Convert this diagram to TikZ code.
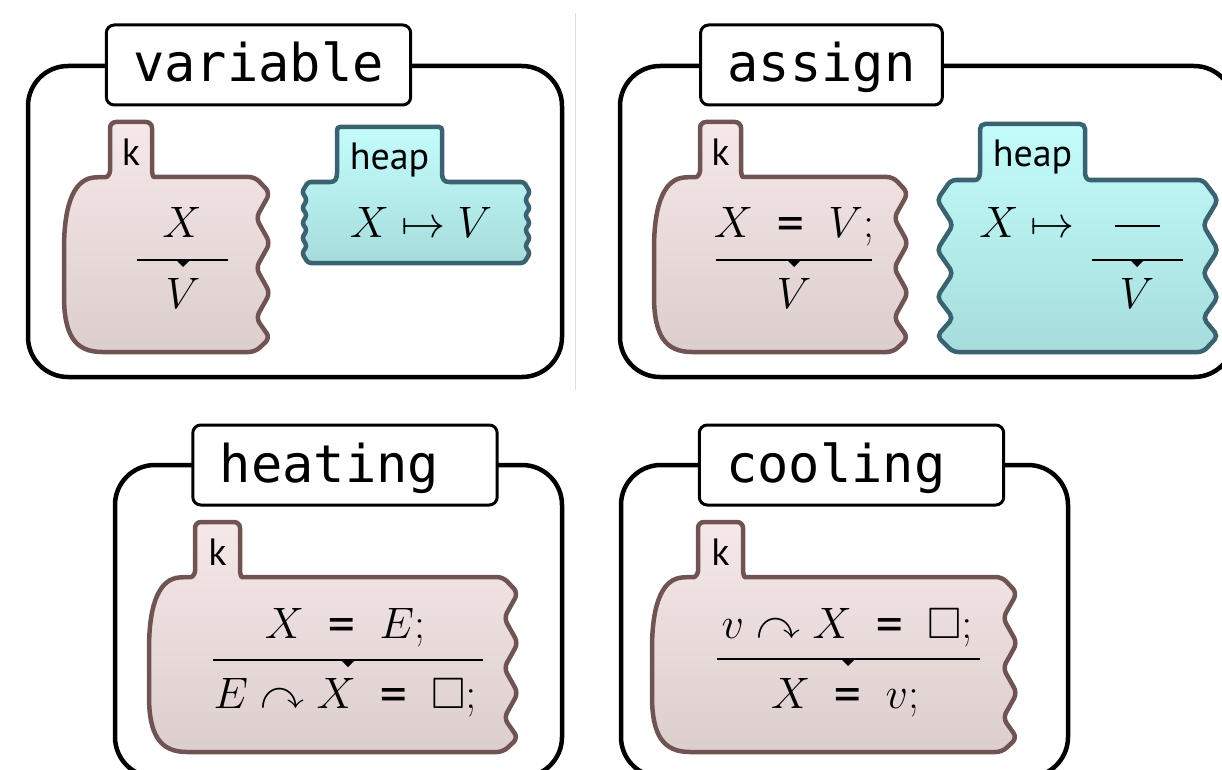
\RequirePackage{fix-cm}
\documentclass[tikz,border=0pt]{standalone}
\usepackage{amsmath,amssymb}
\usepackage{fontspec}
\newfontfamily\kmono{DejaVu Sans Mono}
\newfontfamily\klabelfont{PT Sans}

\definecolor{kfilltop}{RGB}{246,232,232}
\definecolor{kfillbot}{RGB}{221,206,206}
\definecolor{kborder}{RGB}{112,84,84}
\definecolor{hfilltop}{RGB}{196,252,252}
\definecolor{hfillbot}{RGB}{166,220,220}
\definecolor{hborder}{RGB}{58,98,112}

% K-style equality sign
\newcommand{\keq}{\mathrel{\;\mbox{\kmono =}\;}}

\tikzset{
  panel/.style={draw=black, line width=4.5pt, rounded corners=40pt},
  titlebox/.style={draw=black, fill=white, line width=3pt, rounded corners=8pt,
    inner xsep=27pt, inner ysep=0pt, minimum height=80pt,
    text height=34pt, text depth=0pt, align=left,
    font=\kmono\fontsize{52}{60}\selectfont},
  kcell/.style={draw=kborder, line width=4.5pt, top color=kfilltop,
    bottom color=kfillbot, rounded corners=6pt},
  heapcell/.style={draw=hborder, line width=4.5pt, top color=hfilltop,
    bottom color=hfillbot},
  celllabel/.style={anchor=base, inner sep=0pt,
    font=\klabelfont\fontsize{38}{40}\selectfont},
  mtext/.style={anchor=base, inner sep=0pt, font=\fontsize{44}{50}\selectfont},
  fracline/.style={draw=black, line width=2pt},
  separator/.style={draw=black!13, line width=1pt}
}

% k cell: #1 tab left x, #2 vertical offset, #3 tab width, #4 right edge offset
\newcommand{\kcellshape}[4]{%
  \begin{scope}[shift={(#1,#2)}]
    \pgfmathsetmacro\tw{#3}\pgfmathsetmacro\rc{#4}
    \path[kcell] (0,165) -- (0,122) -- (\tw,122) -- (\tw,165)
      .. controls (\tw,173) and (\tw+1,177) .. (\tw+8,177)
      -- (\rc,177) -- (\rc+15,193) -- (\rc+1,218) -- (\rc+15,243)
      -- (\rc+1,268) -- (\rc+15,293) -- (\rc+1,318) -- (\rc+15,338)
      -- (\rc,352) -- (-2,352)
      .. controls (-35,352) and (-46,335) .. (-46,290) -- (-46,255)
      .. controls (-46,200) and (-34,179) .. (-10,177)
      .. controls (-2,177) and (0,173) .. (0,165) -- cycle;
  \end{scope}}

% rule bar with a small pointer below its middle
\newcommand{\fracbar}[4]{%
  \draw[fracline] (#1,#4) -- (#2,#4);
  \fill[black] (#3-7,#4) -- (#3+7,#4) -- (#3,#4+7) -- cycle;}

\begin{document}
\begin{tikzpicture}[x=1pt,y=-1pt]
  \useasboundingbox (0,0) rectangle (1222,770);
  \clip (0,0) rectangle (1222,770);

  \draw[separator] (575.5,13) -- (575.5,390);

  % ---------- variable ----------
  \draw[panel] (28,66) rectangle (562,377);
  \node[titlebox, text width=250.4pt] (tvar) at (258.5,65) {variable};
  \kcellshape{110}{0}{42}{145}
  \node[celllabel] (kvar) at (131,165) {k};
  \node[mtext] (varx) at (182,237) {$X$};
  \fracbar{137}{228}{183}{260}
  \node[mtext] (varv) at (183,308) {$V$};
  \path[heapcell, rounded corners=3pt]
    (337,170) -- (337,127) -- (442,127) -- (442,170)
    .. controls (442,179) and (444,182) .. (452,182) -- (524,182)
    -- (530,192) -- (525,200) -- (530,208) -- (525,215) -- (530,223)
    -- (525,230) -- (530,238) -- (525,246) -- (530,253) -- (524,263)
    -- (308,263) -- (302,253) -- (307,246) -- (302,238) -- (307,230)
    -- (302,223) -- (307,215) -- (302,208) -- (307,200) -- (302,192)
    -- (308,182) -- (327,182)
    .. controls (335,182) and (337,179) .. (337,170) -- cycle;
  \node[celllabel] (hvar) at (389.5,170) {heap};
  \node[mtext] (varmap) at (421,237) {$X \mapsto V$};

  % ---------- assign ----------
  \draw[panel] (620,66) rectangle (1234,377);
  \node[titlebox, text width=187.8pt] (tasg) at (821.5,65) {assign};
  \kcellshape{700}{0}{41}{193}
  \node[celllabel] (kasg) at (720.5,165) {k};
  \node[mtext] (asgtop) at (794,237) {$X \keq V;$};
  \fracbar{716}{872}{794}{260}
  \node[mtext] (asgbot) at (794,308) {$V$};
  \path[heapcell, rounded corners=5pt]
    (980,167) -- (980,124) -- (1085,124) -- (1085,167)
    .. controls (1085,177) and (1087,180) .. (1095,180) -- (1203,180)
    -- (1218,200) -- (1203,225) -- (1218,250) -- (1203,273) -- (1218,297)
    -- (1203,318) -- (1218,336) -- (1203,352) -- (953,352)
    -- (937,336) -- (953,318) -- (937,297) -- (953,273) -- (937,250)
    -- (953,225) -- (937,200) -- (951,180) -- (970,180)
    .. controls (978,180) and (980,177) .. (980,167) -- cycle;
  \node[celllabel] (hasg) at (1032.5,167) {heap};
  \node[mtext] (asgmap) at (1027,237) {$X \mapsto$};
  \node[mtext] (asgold) at (1137,237) {\rule[10pt]{45pt}{2pt}};
  \fracbar{1092}{1183}{1137}{260}
  \node[mtext] (asgnew) at (1137,308) {$V$};

  % ---------- heating ----------
  \draw[panel] (115,465) rectangle (562,777);
  \node[titlebox, text width=250.4pt] (theat) at (345,465) {heating};
  \kcellshape{195}{400}{45}{308}
  \node[celllabel] (kheat) at (217.5,565) {k};
  \node[mtext] (heattop) at (345,638) {$X \keq E;$};
  \fracbar{213}{483}{348}{660}
  \node[mtext] (heatbot) at (345,708) {$E \curvearrowright X \keq \Box;$};

  % ---------- cooling ----------
  \draw[panel] (621,465) rectangle (1068,777);
  \node[titlebox, text width=250.4pt] (tcool) at (851.5,465) {cooling};
  \kcellshape{698}{400}{45}{304}
  \node[celllabel] (kcool) at (720.5,565) {k};
  \node[mtext] (cooltop) at (847,638) {$v \curvearrowright X \keq \Box;$};
  \fracbar{717}{980}{848}{659}
  \node[mtext] (coolbot) at (845,708) {$X \keq v;$};
\end{tikzpicture}
\end{document}
